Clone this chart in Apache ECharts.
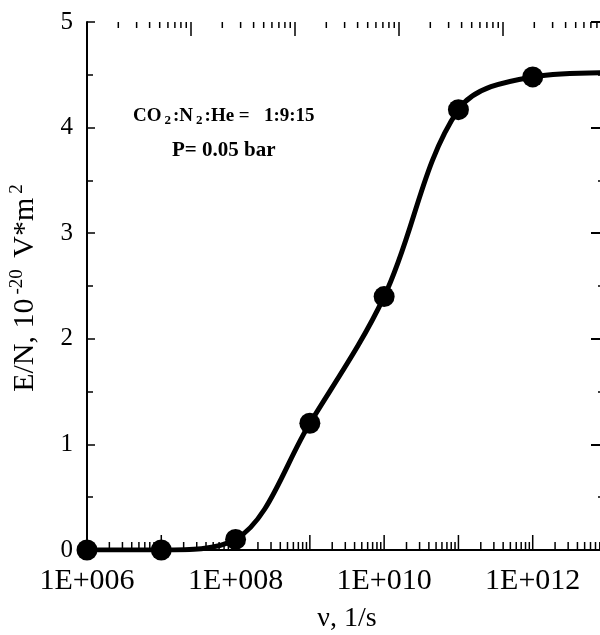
<!DOCTYPE html>
<html>
  <head>
    <meta charset="utf-8" />
    <title>E/N vs collision frequency</title>
    <script src="https://cdn.jsdelivr.net/npm/echarts@6/dist/echarts.min.js"></script>
    <style>
      html, body { margin: 0; padding: 0; background: #fff; }
    </style>
  </head>
  <body>
    <div id="main" style="width: 600px; height: 635px;"></div>
    <script>
      // data
      var nu = [1e6, 1e7, 1e8, 1e9, 1e10, 1e11, 1e12]
      var en = [0, 0, 0.1, 1.2, 2.4, 4.17, 4.48]
      // the curve runs on past the last point to the frame
      var tailNu = [1e13]
      var tailEn = [4.52]
      var xLabelExp = [6, 8, 10, 12]

      var serif = 'Liberation Serif'

      // log tick positions: decades and 2..9 x 10^e
      function majorTicks(e0, e1) {
        var t = []
        for (var e = e0; e <= e1; e++) t.push(Math.pow(10, e))
        return t
      }
      function minorTicks(e0, e1) {
        var t = []
        for (var e = e0; e < e1; e++) {
          for (var k = 2; k <= 9; k++) t.push(k * Math.pow(10, e))
        }
        return t
      }

      var linePts = nu.map(function (v, i) { return [v, en[i]] })
      for (var i = 0; i < tailNu.length; i++) linePts.push([tailNu[i], tailEn[i]])
      var dots = nu.map(function (v, i) { return [v, en[i]] })

      function tickSeries(vals, xIdx, yVal, len) {
        return {
          type: 'custom',
          xAxisIndex: xIdx,
          yAxisIndex: 0,
          silent: true,
          clip: false,
          z: 5,
          data: vals.map(function (v) { return [v, yVal] }),
          renderItem: function (params, api) {
            var p = api.coord([api.value(0), api.value(1)])
            return {
              type: 'line',
              shape: { x1: p[0], y1: p[1], x2: p[0], y2: p[1] + len },
              style: { stroke: '#000', lineWidth: 1.5 }
            }
          }
        }
      }

      var myChart = echarts.init(document.getElementById('main'))
      var option = {
        animation: false,
        backgroundColor: '#fff',
        // the original frame runs a little past the right edge of the picture
        grid: { left: 87, top: 22, width: 520, height: 528, containLabel: false, outerBoundsMode: 'none' },
        xAxis: [
          {
            type: 'log',
            logBase: 10,
            min: 1e6,
            max: 1e13,
            splitNumber: 7,
            position: 'bottom',
            name: 'ν, 1/s',
            nameLocation: 'middle',
            nameGap: 55,
            nameTextStyle: { fontFamily: serif, fontSize: 28, color: '#000' },
            axisLine: { show: true, lineStyle: { color: '#000', width: 2 } },
            axisTick: { show: false },
            splitLine: { show: false },
            axisLabel: {
              margin: 16,
              fontFamily: serif,
              fontSize: 30,
              color: '#000',
              formatter: function (v) {
                var e = Math.round(Math.log10(v))
                if (xLabelExp.indexOf(e) < 0) return ''
                return '1E+' + ('00' + e).slice(-3)
              }
            }
          },
          {
            type: 'log',
            logBase: 10,
            min: 1e6,
            max: 1e11,
            position: 'top',
            axisLine: { show: true, lineStyle: { color: '#000', width: 2 } },
            axisTick: { show: false },
            axisLabel: { show: false },
            splitLine: { show: false }
          }
        ],
        yAxis: [
          {
            type: 'value',
            min: 0,
            max: 5,
            interval: 1,
            position: 'left',
            name: '{n|E/N, 10}{s|-20}{n| V*m}{s|2}',
            nameLocation: 'middle',
            nameGap: 44,
            nameTextStyle: {
              color: '#000',
              rich: {
                n: { fontFamily: serif, fontSize: 30, color: '#000' },
                s: { fontFamily: serif, fontSize: 19, color: '#000', padding: [0, 4, 16, 4] }
              }
            },
            axisLine: { show: true, onZero: false, lineStyle: { color: '#000', width: 2 } },
            axisTick: { show: true, inside: true, length: 8, lineStyle: { color: '#000', width: 1.5 } },
            minorTick: { show: true, splitNumber: 2, length: 6, lineStyle: { color: '#000', width: 1.5 } },
            splitLine: { show: false },
            axisLabel: { margin: 14, fontFamily: serif, fontSize: 25, color: '#000' }
          },
          {
            type: 'value',
            min: 0,
            max: 5,
            interval: 1,
            position: 'right',
            axisLine: { show: true, onZero: false, lineStyle: { color: '#000', width: 2 } },
            axisTick: { show: true, inside: true, length: 16, lineStyle: { color: '#000', width: 2 } },
            minorTick: { show: true, splitNumber: 2, length: 9, lineStyle: { color: '#000', width: 1.5 } },
            splitLine: { show: false },
            axisLabel: { show: false }
          }
        ],
        graphic: [
          {
            type: 'text',
            left: 133,
            top: 107,
            style: {
              text: '{b|CO}{s|2}{b|:N}{s|2}{b|:He =   1:9:15}',
              rich: {
                b: { fontFamily: serif, fontWeight: 'bold', fontSize: 19, fill: '#000' },
                s: { fontFamily: serif, fontWeight: 'bold', fontSize: 13, fill: '#000', padding: [9, 2, 0, 3] }
              }
            }
          },
          {
            type: 'text',
            left: 172,
            top: 140,
            style: {
              text: 'P= 0.05 bar',
              fontFamily: serif,
              fontWeight: 'bold',
              fontSize: 21,
              fill: '#000'
            }
          }
        ],
        series: [
          tickSeries(majorTicks(6, 13), 0, 0, -15),
          tickSeries(minorTicks(6, 13), 0, 0, -8),
          tickSeries(majorTicks(6, 11), 1, 5, 14),
          tickSeries(minorTicks(6, 11), 1, 5, 6),
          {
            type: 'line',
            xAxisIndex: 0,
            yAxisIndex: 0,
            data: linePts,
            smooth: 0.35,
            showSymbol: false,
            clip: true,
            lineStyle: { color: '#000', width: 5 },
            z: 3
          },
          {
            type: 'scatter',
            xAxisIndex: 0,
            yAxisIndex: 0,
            data: dots,
            symbol: 'circle',
            symbolSize: 21,
            itemStyle: { color: '#000', opacity: 1 },
            clip: false,
            z: 4
          }
        ]
      }
      myChart.setOption(option)
    </script>
  </body>
</html>
